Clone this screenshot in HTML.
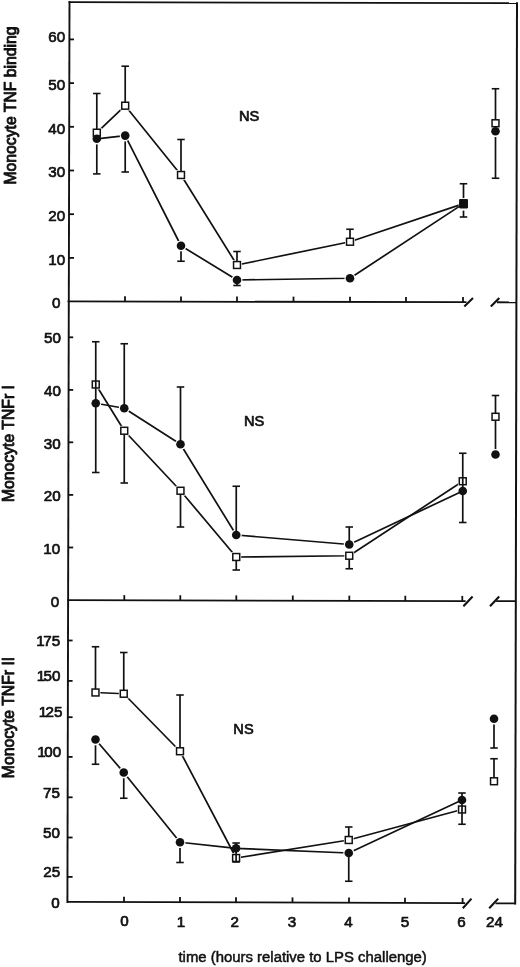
<!DOCTYPE html>
<html><head><meta charset="utf-8"><title>Figure</title>
<style>
html,body{margin:0;padding:0;background:#fff;}
body{width:520px;height:967px;overflow:hidden;}
svg{display:block;will-change:transform;opacity:0.999;font-family:"Liberation Sans",sans-serif;fill:#111;}
text{stroke:#111;stroke-width:0.7px;stroke-linejoin:round;}
.yt{stroke-width:0.9px;}
.tt{stroke-width:0.5px;}
</style></head><body>
<svg width="520" height="967" viewBox="0 0 520 967">
<rect x="0" y="0" width="520" height="967" fill="#fff" stroke="none"/>
<line x1="69.5" y1="1.3" x2="67.4" y2="903" stroke="#111" stroke-width="1.9"/>
<line x1="517.0" y1="2.3" x2="515.2" y2="904.5" stroke="#111" stroke-width="2.0"/>
<line x1="68.5" y1="2.15" x2="518" y2="3.15" stroke="#111" stroke-width="1.8"/>
<line x1="67.5" y1="301.3989955357143" x2="466.5" y2="302.20055803571427" stroke="#111" stroke-width="1.8"/>
<line x1="497" y1="302.26183035714286" x2="516" y2="302.3" stroke="#111" stroke-width="1.8"/>
<line x1="464.3" y1="306.5" x2="473" y2="298" stroke="#111" stroke-width="2.1"/>
<line x1="490.8" y1="306.5" x2="499.3" y2="298" stroke="#111" stroke-width="2.1"/>
<line x1="125" y1="301.5145089285714" x2="125" y2="296.3145089285714" stroke="#111" stroke-width="1.8"/>
<line x1="181" y1="301.6270089285714" x2="181" y2="296.4270089285714" stroke="#111" stroke-width="1.8"/>
<line x1="237" y1="301.7395089285714" x2="237" y2="296.5395089285714" stroke="#111" stroke-width="1.8"/>
<line x1="293.5" y1="301.8530133928571" x2="293.5" y2="296.65301339285713" stroke="#111" stroke-width="1.8"/>
<line x1="350" y1="301.96651785714283" x2="350" y2="296.76651785714284" stroke="#111" stroke-width="1.8"/>
<line x1="406" y1="302.07901785714284" x2="406" y2="296.87901785714286" stroke="#111" stroke-width="1.8"/>
<line x1="463" y1="302.1935267857143" x2="463" y2="296.9935267857143" stroke="#111" stroke-width="1.8"/>
<line x1="67.5" y1="600.1988839285715" x2="465.6" y2="601.0875000000001" stroke="#111" stroke-width="1.8"/>
<line x1="496.2" y1="601.1558035714286" x2="516" y2="601.2" stroke="#111" stroke-width="1.8"/>
<line x1="463.4" y1="606.2" x2="472.6" y2="596.5" stroke="#111" stroke-width="2.1"/>
<line x1="490" y1="606.2" x2="499.2" y2="596.5" stroke="#111" stroke-width="2.1"/>
<line x1="124.3" y1="600.3256696428572" x2="124.3" y2="595.1256696428571" stroke="#111" stroke-width="1.8"/>
<line x1="180.3" y1="600.4506696428572" x2="180.3" y2="595.2506696428571" stroke="#111" stroke-width="1.8"/>
<line x1="236.3" y1="600.5756696428572" x2="236.3" y2="595.3756696428571" stroke="#111" stroke-width="1.8"/>
<line x1="292.8" y1="600.7017857142857" x2="292.8" y2="595.5017857142857" stroke="#111" stroke-width="1.8"/>
<line x1="349.3" y1="600.8279017857143" x2="349.3" y2="595.6279017857142" stroke="#111" stroke-width="1.8"/>
<line x1="405.3" y1="600.9529017857143" x2="405.3" y2="595.7529017857142" stroke="#111" stroke-width="1.8"/>
<line x1="462.3" y1="601.0801339285715" x2="462.3" y2="595.8801339285715" stroke="#111" stroke-width="1.8"/>
<line x1="67.5" y1="901.7982142857143" x2="465.2" y2="903.2185714285714" stroke="#111" stroke-width="1.8"/>
<line x1="495.5" y1="903.3267857142857" x2="516" y2="903.4" stroke="#111" stroke-width="1.8"/>
<line x1="462.8" y1="908.2" x2="471.5" y2="898.6" stroke="#111" stroke-width="2.1"/>
<line x1="489.2" y1="908.2" x2="498.2" y2="898.6" stroke="#111" stroke-width="2.1"/>
<line x1="124.0" y1="902.0" x2="124.0" y2="896.8" stroke="#111" stroke-width="1.8"/>
<line x1="180.0" y1="902.1999999999999" x2="180.0" y2="896.9999999999999" stroke="#111" stroke-width="1.8"/>
<line x1="236.0" y1="902.4" x2="236.0" y2="897.1999999999999" stroke="#111" stroke-width="1.8"/>
<line x1="292.5" y1="902.6017857142857" x2="292.5" y2="897.4017857142857" stroke="#111" stroke-width="1.8"/>
<line x1="349.0" y1="902.8035714285714" x2="349.0" y2="897.6035714285714" stroke="#111" stroke-width="1.8"/>
<line x1="405.0" y1="903.0035714285714" x2="405.0" y2="897.8035714285713" stroke="#111" stroke-width="1.8"/>
<line x1="462.6" y1="903.2092857142857" x2="462.6" y2="898.0092857142856" stroke="#111" stroke-width="1.8"/>
<line x1="69" y1="39.4" x2="74.0" y2="39.4" stroke="#111" stroke-width="1.8"/>
<line x1="69" y1="83.1" x2="74.0" y2="83.1" stroke="#111" stroke-width="1.8"/>
<line x1="69" y1="126.8" x2="74.0" y2="126.8" stroke="#111" stroke-width="1.8"/>
<line x1="69" y1="170.5" x2="74.0" y2="170.5" stroke="#111" stroke-width="1.8"/>
<line x1="69" y1="214.2" x2="74.0" y2="214.2" stroke="#111" stroke-width="1.8"/>
<line x1="69" y1="257.9" x2="74.0" y2="257.9" stroke="#111" stroke-width="1.8"/>
<line x1="68.2" y1="337.3" x2="73.2" y2="337.3" stroke="#111" stroke-width="1.8"/>
<line x1="68.2" y1="389.9" x2="73.2" y2="389.9" stroke="#111" stroke-width="1.8"/>
<line x1="68.2" y1="442.3" x2="73.2" y2="442.3" stroke="#111" stroke-width="1.8"/>
<line x1="68.2" y1="494.9" x2="73.2" y2="494.9" stroke="#111" stroke-width="1.8"/>
<line x1="68.2" y1="547.5" x2="73.2" y2="547.5" stroke="#111" stroke-width="1.8"/>
<line x1="67.6" y1="640.5" x2="72.6" y2="640.5" stroke="#111" stroke-width="1.8"/>
<line x1="67.6" y1="680.9" x2="72.6" y2="680.9" stroke="#111" stroke-width="1.8"/>
<line x1="67.6" y1="717.2" x2="72.6" y2="717.2" stroke="#111" stroke-width="1.8"/>
<line x1="67.6" y1="756.9" x2="72.6" y2="756.9" stroke="#111" stroke-width="1.8"/>
<line x1="67.6" y1="797.3" x2="72.6" y2="797.3" stroke="#111" stroke-width="1.8"/>
<line x1="67.6" y1="837.5" x2="72.6" y2="837.5" stroke="#111" stroke-width="1.8"/>
<line x1="67.6" y1="876.9" x2="72.6" y2="876.9" stroke="#111" stroke-width="1.8"/>
<text x="65.2" y="42.2" text-anchor="end" font-size="15.2" >60</text>
<text x="65.2" y="90.0" text-anchor="end" font-size="15.2" >50</text>
<text x="65.2" y="133.7" text-anchor="end" font-size="15.2" >40</text>
<text x="65.2" y="176.9" text-anchor="end" font-size="15.2" >30</text>
<text x="65.2" y="220.9" text-anchor="end" font-size="15.2" >20</text>
<text x="65.2" y="264.6" text-anchor="end" font-size="15.2" >10</text>
<text x="60.5" y="308.0" text-anchor="end" font-size="15.2" >0</text>
<text x="61.0" y="343.3" text-anchor="end" font-size="15.2" >50</text>
<text x="61.0" y="396.3" text-anchor="end" font-size="15.2" >40</text>
<text x="60.6" y="448.6" text-anchor="end" font-size="15.2" >30</text>
<text x="60.6" y="501.3" text-anchor="end" font-size="15.2" >20</text>
<text x="60.2" y="553.6" text-anchor="end" font-size="15.2" >10</text>
<text x="59.2" y="606.7" text-anchor="end" font-size="15.2" >0</text>
<text x="60.2" y="646.4" text-anchor="end" font-size="15.2" >1<tspan dx="-1.5">75</tspan></text>
<text x="60.5" y="680.7" text-anchor="end" font-size="15.2" >1<tspan dx="-1.5">50</tspan></text>
<text x="62.5" y="717.2" text-anchor="end" font-size="15.2" >1<tspan dx="-1.5">25</tspan></text>
<text x="61.1" y="756.8" text-anchor="end" font-size="15.2" >1<tspan dx="-1.5">00</tspan></text>
<text x="59.900000000000006" y="797.5" text-anchor="end" font-size="15.2" >75</text>
<text x="59.900000000000006" y="837.5" text-anchor="end" font-size="15.2" >50</text>
<text x="60.1" y="877.0" text-anchor="end" font-size="15.2" >25</text>
<text x="59.6" y="907.8" text-anchor="end" font-size="15.2" >0</text>
<text x="124.6" y="925.6999999999999" text-anchor="middle" font-size="15.2" >0</text>
<text x="181" y="927.1999999999999" text-anchor="middle" font-size="15.2" >1</text>
<text x="234.8" y="927.1999999999999" text-anchor="middle" font-size="15.2" >2</text>
<text x="292" y="927.1999999999999" text-anchor="middle" font-size="15.2" >3</text>
<text x="348.6" y="927.1999999999999" text-anchor="middle" font-size="15.2" >4</text>
<text x="405" y="927.1999999999999" text-anchor="middle" font-size="15.2" >5</text>
<text x="461.6" y="927.1999999999999" text-anchor="middle" font-size="15.2" >6</text>
<text x="494.4" y="927.1999999999999" text-anchor="middle" font-size="15.2" >24</text>
<text x="302.65" y="961.5" text-anchor="middle" font-size="14.9" class="tt">time (hours relative to LPS challenge)</text>
<text x="249.1" y="121.3" text-anchor="middle" font-size="14.6" >NS</text>
<text x="254.2" y="425.8" text-anchor="middle" font-size="14.6" >NS</text>
<text x="243.5" y="734.4" text-anchor="middle" font-size="14.6" >NS</text>
<text transform="translate(15.9,105.5) rotate(-90)" text-anchor="middle" font-size="15.75" class="yt">Monocyte TNF binding</text>
<text transform="translate(13.5,443.6) rotate(-90)" text-anchor="middle" font-size="15.75" class="yt">Monocyte TNFr I</text>
<text transform="translate(13.5,717.5) rotate(-90)" text-anchor="middle" font-size="15.75" class="yt">Monocyte TNFr II</text>
<polyline points="96.8,132.7 125.2,105.7 181,175 237,265 350,241.75 463.5,203.6" fill="none" stroke="#111" stroke-width="1.7" stroke-linejoin="round"/>
<rect x="91.89999999999999" y="127.79999999999998" width="9.8" height="9.8" fill="#fff"/>
<rect x="120.3" y="100.8" width="9.8" height="9.8" fill="#fff"/>
<rect x="176.1" y="170.1" width="9.8" height="9.8" fill="#fff"/>
<rect x="232.1" y="260.1" width="9.8" height="9.8" fill="#fff"/>
<rect x="345.1" y="236.85" width="9.8" height="9.8" fill="#fff"/>
<rect x="458.6" y="198.7" width="9.8" height="9.8" fill="#fff"/>
<rect x="490.6" y="118.35" width="9.8" height="9.8" fill="#fff"/>
<line x1="96.8" y1="93.5" x2="96.8" y2="132.7" stroke="#111" stroke-width="1.7"/>
<line x1="93.05" y1="93.5" x2="100.55" y2="93.5" stroke="#111" stroke-width="1.6"/>
<line x1="125.2" y1="66.2" x2="125.2" y2="105.7" stroke="#111" stroke-width="1.7"/>
<line x1="121.45" y1="66.2" x2="128.95" y2="66.2" stroke="#111" stroke-width="1.6"/>
<line x1="181" y1="139.5" x2="181" y2="175" stroke="#111" stroke-width="1.7"/>
<line x1="177.25" y1="139.5" x2="184.75" y2="139.5" stroke="#111" stroke-width="1.6"/>
<line x1="237" y1="251.5" x2="237" y2="265" stroke="#111" stroke-width="1.7"/>
<line x1="233.25" y1="251.5" x2="240.75" y2="251.5" stroke="#111" stroke-width="1.6"/>
<line x1="350" y1="229.25" x2="350" y2="241.75" stroke="#111" stroke-width="1.7"/>
<line x1="346.25" y1="229.25" x2="353.75" y2="229.25" stroke="#111" stroke-width="1.6"/>
<line x1="463.5" y1="183.75" x2="463.5" y2="198.1" stroke="#111" stroke-width="1.7"/>
<line x1="459.75" y1="183.75" x2="467.25" y2="183.75" stroke="#111" stroke-width="1.6"/>
<line x1="495.5" y1="88.75" x2="495.5" y2="123.25" stroke="#111" stroke-width="1.7"/>
<line x1="491.75" y1="88.75" x2="499.25" y2="88.75" stroke="#111" stroke-width="1.6"/>
<rect x="93.35" y="129.25" width="6.9" height="6.9" fill="#fff" stroke="#111" stroke-width="1.5"/>
<rect x="121.75" y="102.25" width="6.9" height="6.9" fill="#fff" stroke="#111" stroke-width="1.5"/>
<rect x="177.55" y="171.55" width="6.9" height="6.9" fill="#fff" stroke="#111" stroke-width="1.5"/>
<rect x="233.55" y="261.55" width="6.9" height="6.9" fill="#fff" stroke="#111" stroke-width="1.5"/>
<rect x="346.55" y="238.3" width="6.9" height="6.9" fill="#fff" stroke="#111" stroke-width="1.5"/>
<rect x="460.05" y="200.15" width="6.9" height="6.9" fill="#fff" stroke="#111" stroke-width="1.5"/>
<rect x="492.05" y="119.8" width="6.9" height="6.9" fill="#fff" stroke="#111" stroke-width="1.5"/>
<polyline points="96.8,138.8 125.2,135.6 181,245.75 237,280 350,278.25 463.5,203.6" fill="none" stroke="#111" stroke-width="1.7" stroke-linejoin="round"/>
<circle cx="125.2" cy="135.6" r="5.5" fill="#fff"/>
<circle cx="181" cy="245.75" r="5.5" fill="#fff"/>
<circle cx="237" cy="280" r="5.5" fill="#fff"/>
<circle cx="350" cy="278.25" r="5.5" fill="#fff"/>
<line x1="96.8" y1="144.4" x2="96.8" y2="173.9" stroke="#111" stroke-width="1.7"/>
<line x1="93.05" y1="173.9" x2="100.55" y2="173.9" stroke="#111" stroke-width="1.6"/>
<line x1="125.2" y1="141.4" x2="125.2" y2="172" stroke="#111" stroke-width="1.7"/>
<line x1="121.45" y1="172" x2="128.95" y2="172" stroke="#111" stroke-width="1.6"/>
<line x1="181" y1="251.35" x2="181" y2="261.25" stroke="#111" stroke-width="1.7"/>
<line x1="177.25" y1="261.25" x2="184.75" y2="261.25" stroke="#111" stroke-width="1.6"/>
<line x1="237" y1="280" x2="237" y2="285.5" stroke="#111" stroke-width="1.7"/>
<line x1="233.25" y1="285.5" x2="240.75" y2="285.5" stroke="#111" stroke-width="1.6"/>
<line x1="463.5" y1="210.6" x2="463.5" y2="217" stroke="#111" stroke-width="1.7"/>
<line x1="459.75" y1="217" x2="467.25" y2="217" stroke="#111" stroke-width="1.6"/>
<line x1="495.5" y1="137.05" x2="495.5" y2="178.25" stroke="#111" stroke-width="1.7"/>
<line x1="491.75" y1="178.25" x2="499.25" y2="178.25" stroke="#111" stroke-width="1.6"/>
<circle cx="96.8" cy="138.8" r="4.3" fill="#111"/>
<circle cx="125.2" cy="135.6" r="4.3" fill="#111"/>
<circle cx="181" cy="245.75" r="4.3" fill="#111"/>
<circle cx="237" cy="280" r="4.3" fill="#111"/>
<circle cx="350" cy="278.25" r="4.3" fill="#111"/>
<circle cx="463.5" cy="203.6" r="4.3" fill="#111"/>
<circle cx="495.5" cy="131.25" r="4.3" fill="#111"/>
<rect x="459.3" y="198.89999999999998" width="8.6" height="9.6" rx="1.2" fill="#111"/>
<polyline points="95.75,384.5 124.25,430.75 180.5,490.75 236.25,557 349.25,555.75 462.75,481.25" fill="none" stroke="#111" stroke-width="1.7" stroke-linejoin="round"/>
<rect x="90.85" y="379.6" width="9.8" height="9.8" fill="#fff"/>
<rect x="119.35" y="425.85" width="9.8" height="9.8" fill="#fff"/>
<rect x="175.6" y="485.85" width="9.8" height="9.8" fill="#fff"/>
<rect x="231.35" y="552.1" width="9.8" height="9.8" fill="#fff"/>
<rect x="344.35" y="550.85" width="9.8" height="9.8" fill="#fff"/>
<rect x="457.85" y="476.35" width="9.8" height="9.8" fill="#fff"/>
<rect x="490.6" y="411.85" width="9.8" height="9.8" fill="#fff"/>
<line x1="124.25" y1="430.75" x2="124.25" y2="483" stroke="#111" stroke-width="1.7"/>
<line x1="120.5" y1="483" x2="128.0" y2="483" stroke="#111" stroke-width="1.6"/>
<line x1="180.5" y1="490.75" x2="180.5" y2="527" stroke="#111" stroke-width="1.7"/>
<line x1="176.75" y1="527" x2="184.25" y2="527" stroke="#111" stroke-width="1.6"/>
<line x1="236.25" y1="557" x2="236.25" y2="570" stroke="#111" stroke-width="1.7"/>
<line x1="232.5" y1="570" x2="240.0" y2="570" stroke="#111" stroke-width="1.6"/>
<line x1="349.25" y1="555.75" x2="349.25" y2="568.75" stroke="#111" stroke-width="1.7"/>
<line x1="345.5" y1="568.75" x2="353.0" y2="568.75" stroke="#111" stroke-width="1.6"/>
<line x1="495.5" y1="395.5" x2="495.5" y2="454.5" stroke="#111" stroke-width="1.7"/>
<line x1="491.75" y1="395.5" x2="499.25" y2="395.5" stroke="#111" stroke-width="1.6"/>
<rect x="92.3" y="381.05" width="6.9" height="6.9" fill="#fff" stroke="#111" stroke-width="1.5"/>
<rect x="120.8" y="427.3" width="6.9" height="6.9" fill="#fff" stroke="#111" stroke-width="1.5"/>
<rect x="177.05" y="487.3" width="6.9" height="6.9" fill="#fff" stroke="#111" stroke-width="1.5"/>
<rect x="232.8" y="553.55" width="6.9" height="6.9" fill="#fff" stroke="#111" stroke-width="1.5"/>
<rect x="345.8" y="552.3" width="6.9" height="6.9" fill="#fff" stroke="#111" stroke-width="1.5"/>
<rect x="459.3" y="477.8" width="6.9" height="6.9" fill="#fff" stroke="#111" stroke-width="1.5"/>
<rect x="492.05" y="413.3" width="6.9" height="6.9" fill="#fff" stroke="#111" stroke-width="1.5"/>
<polyline points="95.75,403.25 124.25,408.25 180.5,444.25 236.25,535 349.25,544.5 462.75,491" fill="none" stroke="#111" stroke-width="1.7" stroke-linejoin="round"/>
<circle cx="95.75" cy="403.25" r="5.5" fill="#fff"/>
<circle cx="124.25" cy="408.25" r="5.5" fill="#fff"/>
<circle cx="180.5" cy="444.25" r="5.5" fill="#fff"/>
<circle cx="236.25" cy="535" r="5.5" fill="#fff"/>
<circle cx="349.25" cy="544.5" r="5.5" fill="#fff"/>
<circle cx="495.5" cy="454.5" r="5.5" fill="#fff"/>
<line x1="95.75" y1="341.75" x2="95.75" y2="472.5" stroke="#111" stroke-width="1.7"/>
<line x1="92.0" y1="341.75" x2="99.5" y2="341.75" stroke="#111" stroke-width="1.6"/>
<line x1="92.0" y1="472.5" x2="99.5" y2="472.5" stroke="#111" stroke-width="1.6"/>
<line x1="124.25" y1="343.75" x2="124.25" y2="408.25" stroke="#111" stroke-width="1.7"/>
<line x1="120.5" y1="343.75" x2="128.0" y2="343.75" stroke="#111" stroke-width="1.6"/>
<line x1="180.5" y1="387" x2="180.5" y2="444.25" stroke="#111" stroke-width="1.7"/>
<line x1="176.75" y1="387" x2="184.25" y2="387" stroke="#111" stroke-width="1.6"/>
<line x1="236.25" y1="486.25" x2="236.25" y2="535" stroke="#111" stroke-width="1.7"/>
<line x1="232.5" y1="486.25" x2="240.0" y2="486.25" stroke="#111" stroke-width="1.6"/>
<line x1="349.25" y1="527" x2="349.25" y2="544.5" stroke="#111" stroke-width="1.7"/>
<line x1="345.5" y1="527" x2="353.0" y2="527" stroke="#111" stroke-width="1.6"/>
<line x1="462.75" y1="453.25" x2="462.75" y2="522.5" stroke="#111" stroke-width="1.7"/>
<line x1="459.0" y1="453.25" x2="466.5" y2="453.25" stroke="#111" stroke-width="1.6"/>
<line x1="459.0" y1="522.5" x2="466.5" y2="522.5" stroke="#111" stroke-width="1.6"/>
<circle cx="95.75" cy="403.25" r="4.3" fill="#111"/>
<circle cx="124.25" cy="408.25" r="4.3" fill="#111"/>
<circle cx="180.5" cy="444.25" r="4.3" fill="#111"/>
<circle cx="236.25" cy="535" r="4.3" fill="#111"/>
<circle cx="349.25" cy="544.5" r="4.3" fill="#111"/>
<circle cx="462.75" cy="491" r="4.3" fill="#111"/>
<circle cx="495.5" cy="454.5" r="4.3" fill="#111"/>
<polyline points="95.5,692.5 123.75,693.75 180,751.25 236.1,858 348.75,840 462,809.5" fill="none" stroke="#111" stroke-width="1.7" stroke-linejoin="round"/>
<rect x="90.6" y="687.6" width="9.8" height="9.8" fill="#fff"/>
<rect x="118.85" y="688.85" width="9.8" height="9.8" fill="#fff"/>
<rect x="175.1" y="746.35" width="9.8" height="9.8" fill="#fff"/>
<rect x="231.2" y="853.1" width="9.8" height="9.8" fill="#fff"/>
<rect x="343.85" y="835.1" width="9.8" height="9.8" fill="#fff"/>
<rect x="457.1" y="804.6" width="9.8" height="9.8" fill="#fff"/>
<rect x="489.1" y="776.35" width="9.8" height="9.8" fill="#fff"/>
<line x1="95.5" y1="646.75" x2="95.5" y2="692.5" stroke="#111" stroke-width="1.7"/>
<line x1="91.75" y1="646.75" x2="99.25" y2="646.75" stroke="#111" stroke-width="1.6"/>
<line x1="123.75" y1="652.5" x2="123.75" y2="693.75" stroke="#111" stroke-width="1.7"/>
<line x1="120.0" y1="652.5" x2="127.5" y2="652.5" stroke="#111" stroke-width="1.6"/>
<line x1="180" y1="695" x2="180" y2="751.25" stroke="#111" stroke-width="1.7"/>
<line x1="176.25" y1="695" x2="183.75" y2="695" stroke="#111" stroke-width="1.6"/>
<line x1="348.75" y1="827" x2="348.75" y2="840" stroke="#111" stroke-width="1.7"/>
<line x1="345.0" y1="827" x2="352.5" y2="827" stroke="#111" stroke-width="1.6"/>
<line x1="494" y1="758.75" x2="494" y2="781.25" stroke="#111" stroke-width="1.7"/>
<line x1="490.25" y1="758.75" x2="497.75" y2="758.75" stroke="#111" stroke-width="1.6"/>
<rect x="92.05" y="689.05" width="6.9" height="6.9" fill="#fff" stroke="#111" stroke-width="1.5"/>
<rect x="120.3" y="690.3" width="6.9" height="6.9" fill="#fff" stroke="#111" stroke-width="1.5"/>
<rect x="176.55" y="747.8" width="6.9" height="6.9" fill="#fff" stroke="#111" stroke-width="1.5"/>
<rect x="232.65" y="854.55" width="6.9" height="6.9" fill="#fff" stroke="#111" stroke-width="1.5"/>
<rect x="345.3" y="836.55" width="6.9" height="6.9" fill="#fff" stroke="#111" stroke-width="1.5"/>
<rect x="458.55" y="806.05" width="6.9" height="6.9" fill="#fff" stroke="#111" stroke-width="1.5"/>
<rect x="490.55" y="777.8" width="6.9" height="6.9" fill="#fff" stroke="#111" stroke-width="1.5"/>
<polyline points="95.5,739.5 123.75,772.5 180,842.25 236.1,848.3 348.75,853 462,800" fill="none" stroke="#111" stroke-width="1.7" stroke-linejoin="round"/>
<circle cx="95.5" cy="739.5" r="5.5" fill="#fff"/>
<circle cx="123.75" cy="772.5" r="5.5" fill="#fff"/>
<circle cx="180" cy="842.25" r="5.5" fill="#fff"/>
<circle cx="348.75" cy="853" r="5.5" fill="#fff"/>
<circle cx="494" cy="718.75" r="5.5" fill="#fff"/>
<line x1="95.5" y1="745.3" x2="95.5" y2="764.25" stroke="#111" stroke-width="1.7"/>
<line x1="91.75" y1="764.25" x2="99.25" y2="764.25" stroke="#111" stroke-width="1.6"/>
<line x1="123.75" y1="778.3" x2="123.75" y2="798.25" stroke="#111" stroke-width="1.7"/>
<line x1="120.0" y1="798.25" x2="127.5" y2="798.25" stroke="#111" stroke-width="1.6"/>
<line x1="180" y1="848.05" x2="180" y2="862.5" stroke="#111" stroke-width="1.7"/>
<line x1="176.25" y1="862.5" x2="183.75" y2="862.5" stroke="#111" stroke-width="1.6"/>
<line x1="236.1" y1="843" x2="236.1" y2="862" stroke="#111" stroke-width="1.7"/>
<line x1="232.35" y1="843" x2="239.85" y2="843" stroke="#111" stroke-width="1.6"/>
<line x1="232.35" y1="862" x2="239.85" y2="862" stroke="#111" stroke-width="1.6"/>
<line x1="348.75" y1="853" x2="348.75" y2="881.25" stroke="#111" stroke-width="1.7"/>
<line x1="345.0" y1="881.25" x2="352.5" y2="881.25" stroke="#111" stroke-width="1.6"/>
<line x1="462" y1="793" x2="462" y2="824.25" stroke="#111" stroke-width="1.7"/>
<line x1="458.25" y1="793" x2="465.75" y2="793" stroke="#111" stroke-width="1.6"/>
<line x1="458.25" y1="824.25" x2="465.75" y2="824.25" stroke="#111" stroke-width="1.6"/>
<line x1="494" y1="724.55" x2="494" y2="748" stroke="#111" stroke-width="1.7"/>
<line x1="490.25" y1="748" x2="497.75" y2="748" stroke="#111" stroke-width="1.6"/>
<circle cx="95.5" cy="739.5" r="4.3" fill="#111"/>
<circle cx="123.75" cy="772.5" r="4.3" fill="#111"/>
<circle cx="180" cy="842.25" r="4.3" fill="#111"/>
<circle cx="236.1" cy="848.3" r="4.3" fill="#111"/>
<circle cx="348.75" cy="853" r="4.3" fill="#111"/>
<circle cx="462" cy="800" r="4.3" fill="#111"/>
<circle cx="494" cy="718.75" r="4.3" fill="#111"/>
</svg>
</body></html>
